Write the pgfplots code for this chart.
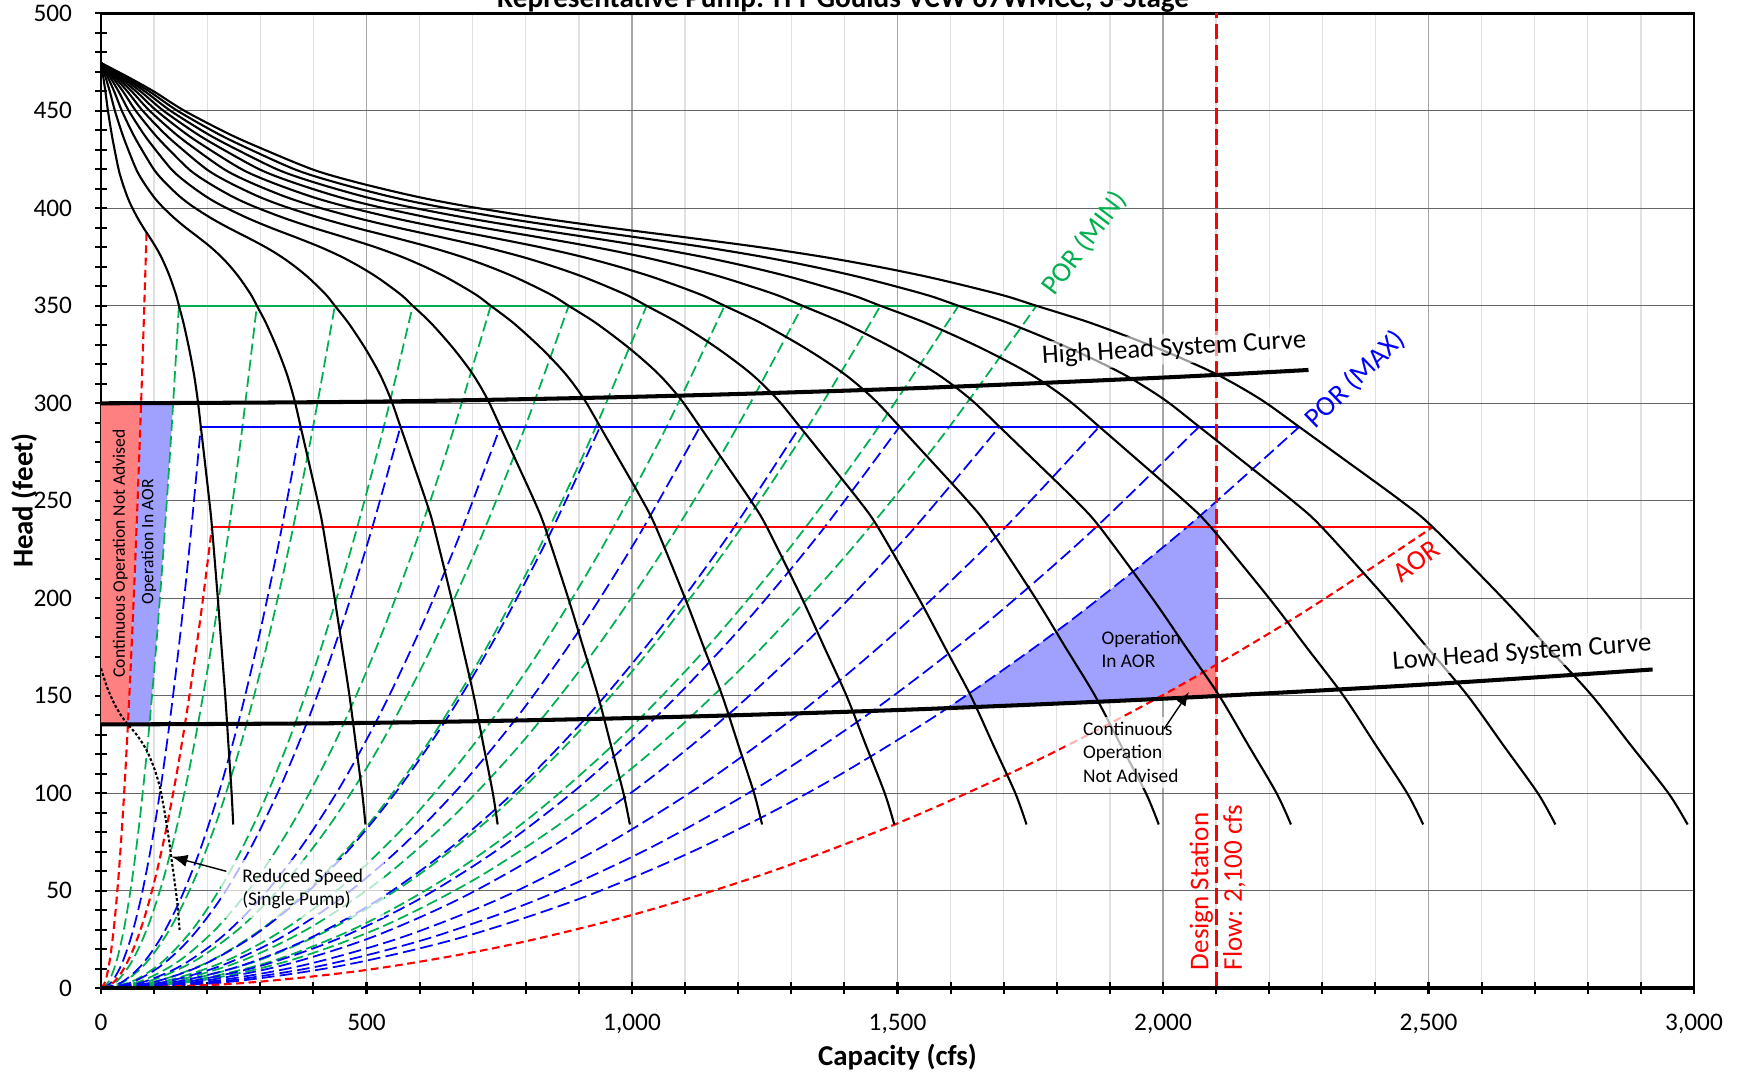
\documentclass[border=0pt]{standalone}
\usepackage{fontspec}
\setmainfont{Carlito}
\usepackage{pgfplots}
\pgfplotsset{compat=1.18}
\usepackage{pgfplotstable}
\usetikzlibrary{arrows.meta}

\definecolor{porgreen}{RGB}{0,176,80}
\definecolor{porblue}{RGB}{0,0,255}
\definecolor{aorred}{RGB}{255,0,0}
\definecolor{pinkfill}{RGB}{255,128,128}
\definecolor{lavfill}{RGB}{160,160,255}

% single pump curve: head H (ft) vs capacity q (cfs); n pumps in parallel give n*q
\pgfplotstableread{
H q
474.5 0
467.3 4.25
459.7 8.4
450 13.1
438.4 19.9
430.8 25.1
419.7 33.4
413 40.5
406 49.5
401 57.5
395 69
390 80
385 92
380 103.5
375 113.5
370 122
365 129.5
360 136
355 142
350 146.8
341 155.5
328 166
315 175
302 182
288 188
275 193.5
250 204
236.5 209
200 220
175 227
150 234
125 240
100 246
84 249
}\singlepump

% affinity curve shape through the origin (fraction of end flow / end head)
\pgfplotstableread{
u v
0 0
0.1 0.01
0.2 0.04
0.3 0.09
0.4 0.16
0.5 0.25
0.6 0.36
0.7 0.49
0.8 0.64
0.9 0.81
1 1
}\affinity

\pgfplotsset{
  pump/.style={black, line width=0.6pt, smooth},
  pormin/.style={porgreen, line width=0.5pt, dash pattern=on 3.2pt off 1.4pt, smooth},
  pormax/.style={porblue, line width=0.5pt, dash pattern=on 3.6pt off 1.5pt, smooth},
  aor/.style={aorred, line width=0.6pt, dash pattern=on 2.2pt off 1.3pt, smooth},
}

\begin{document}
\begin{tikzpicture}
\path[use as bounding box] (-1.01cm,-0.87cm) rectangle (16.45cm,9.883cm);
\begin{axis}[
  at={(0,0)}, anchor=south west, scale only axis,
  width=15.93cm, height=9.75cm,
  xmin=0, xmax=3000, ymin=0, ymax=500,
  xtick={0,500,...,3000}, ytick={0,50,...,500},
  minor x tick num=4, minor y tick num=4,
  xmajorgrids, xminorgrids, ymajorgrids,
  major x grid style={black!35, line width=0.35pt},
  minor x grid style={black!12, line width=0.35pt},
  major y grid style={black!60, line width=0.35pt},
  tick align=center, major tick length=3.4pt, minor tick length=3.4pt,
  tick pos=left,
  every tick/.style={black, line width=0.6pt},
  axis line style={black, line width=0.8pt},
  ticklabel style={font=\fontsize{7.2}{8}\selectfont},
  /pgf/number format/assume math mode=true,
  scaled ticks=false,
  xticklabel style={/pgf/number format/1000 sep={,}, yshift=-2pt},
  yticklabel style={xshift=-3pt},
]

% shaded zones
\addplot[fill=pinkfill, draw=none] coordinates {
  (0,135.3) (0,300) (75.1,300) (68.6,250) (61.3,200) (54.8,160) (50.4,135.3)} --cycle;
\addplot[fill=lavfill, draw=none] coordinates {
  (50.4,135.3) (54.8,160) (61.3,200) (68.6,250) (75.1,300)
  (135.9,300) (124.1,250) (111.0,200) (99.3,160) (91.3,135.3)} --cycle;
\addplot[fill=lavfill, draw=none] coordinates {
  (1592,143.4) (1700,163.4) (1800,183.2) (1900,204.1) (2000,226.2) (2100,249.3)
  (2100,165.8) (2050,158.0) (2000,150.4) (1984,148.0) (1800,145.7)} --cycle;
\addplot[fill=pinkfill, draw=none] coordinates {
  (1984,148.0) (2000,150.4) (2050,158.0) (2100,165.8) (2100,149.6) (2000,148.2)} --cycle;

% POR (MIN) affinity curves, end points on the 350 ft line
\foreach \q in {146.8,293.6,440.4,587.2,734,880.8,1027.6,1174.4,1321.2,1468,1614.8,1761.6}{
  \addplot[pormin] table[x expr=\thisrow{u}*\q, y expr=\thisrow{v}*350] {\affinity};
}
% POR (MAX) affinity curves, end points on the 288 ft line
\foreach \q in {188,376,564,752,940,1128,1316,1504,1692,1880,2068,2257}{
  \addplot[pormax] table[x expr=\thisrow{u}*\q, y expr=\thisrow{v}*288] {\affinity};
}
% AOR curves
\foreach \q/\h in {86/389,209/236.5,2508/236.5}{
  \addplot[aor] table[x expr=\thisrow{u}*\q, y expr=\thisrow{v}*\h] {\affinity};
}

% POR / AOR limits
\addplot[porgreen, line width=0.65pt] coordinates {(146.8,350) (1761.6,350)};
\addplot[porblue, line width=0.65pt] coordinates {(188,288) (2257,288)};
\addplot[aorred, line width=0.65pt] coordinates {(209,236.5) (2508,236.5)};

% design station flow
\addplot[aorred, line width=0.85pt, dash pattern=on 4.5pt off 1.5pt] coordinates {(2100,0) (2100,500)};

% pump curves, 1 to 12 pumps in parallel
\foreach \n in {1,...,12}{
  \addplot[pump] table[x expr=\thisrow{q}*\n, y=H] {\singlepump};
}

% system curves
\addplot[black, line width=1.15pt, smooth] coordinates {
  (0,300) (500,300.8) (1000,303.3) (1500,307.4) (2000,313.2) (2274,317.1)};
\addplot[black, line width=1.15pt, smooth] coordinates {
  (0,135.3) (500,136.1) (1000,138.6) (1500,142.7) (2000,148.5) (2500,155.9) (2922,163.5)};

% reduced speed, single pump
\addplot[black, line width=0.6pt, dash pattern=on 0.8pt off 0.6pt, smooth] coordinates {
  (0,164) (12,154) (25,146) (40,139) (52,135) (70,129) (86,122) (100,113)
  (111,103) (120,90) (127,78) (133,66) (138,56) (144,43) (148,30)};

% labels
\node[porgreen, rotate=53, font=\fontsize{8}{9}\selectfont] at (axis cs:1852,382) {POR (MIN)};
\node[porblue, rotate=44, font=\fontsize{8}{9}\selectfont] at (axis cs:2362,312) {POR (MAX)};
\node[aorred, rotate=36, font=\fontsize{8}{9}\selectfont] at (axis cs:2478,219) {AOR};
\node[rotate=3.5, fill=white, fill opacity=0.6, text opacity=1, inner sep=1pt,
  font=\fontsize{7.6}{9}\selectfont] at (axis cs:2021,328) {High Head System Curve};
\node[rotate=4, fill=white, fill opacity=0.6, text opacity=1, inner sep=1pt,
  font=\fontsize{7.6}{9}\selectfont] at (axis cs:2676,172) {Low Head System Curve};
\node[anchor=west, align=left, font=\fontsize{5.5}{6.6}\selectfont] at (axis cs:1861,174) {Operation\\In AOR};
\node[anchor=west, align=left, fill=white, fill opacity=0.7, text opacity=1,
  inner xsep=5pt, inner ysep=1.5pt, font=\fontsize{5.5}{6.6}\selectfont]
  at (axis cs:1815,121) {Continuous\\Operation\\Not Advised};
\draw[-{Latex[length=4pt,width=3pt]}, line width=0.4pt] (axis cs:2002,133) -- (axis cs:2049,152);
\node[anchor=west, align=left, fill=white, fill opacity=0.7, text opacity=1,
  inner xsep=6pt, inner ysep=2.5pt, font=\fontsize{5.5}{6.6}\selectfont]
  at (axis cs:225,51) {Reduced Speed\\(Single Pump)};
\draw[-{Latex[length=4.5pt,width=3.5pt]}, line width=0.4pt] (axis cs:236,60) -- (axis cs:133,67.5);
\node[rotate=90, font=\fontsize{5}{6}\selectfont] at (axis cs:36,223) {Continuous Operation Not Advised};
\node[rotate=90, font=\fontsize{5}{6}\selectfont] at (axis cs:90,229) {Operation In AOR};
\node[rotate=90, anchor=west, aorred, inner sep=0pt, font=\fontsize{7.7}{9}\selectfont] at (axis cs:2072,9) {Design Station};
\node[rotate=90, anchor=west, aorred, inner sep=0pt, font=\fontsize{7.7}{9}\selectfont] at (axis cs:2134,9) {Flow: 2,100 cfs};
\end{axis}
\draw[black, line width=1.2pt] (0,0) -- (15.93cm,0);
\node[font=\bfseries\fontsize{8.2}{9.6}\selectfont] at (7.965cm,-0.69cm) {Capacity (cfs)};
\node[rotate=90, font=\bfseries\fontsize{8.2}{9.6}\selectfont] at (-0.77cm,4.875cm) {Head (feet)};
\node[anchor=base, font=\bfseries\fontsize{8.3}{10}\selectfont] at (7.42cm,9.81cm) {Representative Pump: ITT Goulds VCW 67WMCC, 3-Stage};
\end{tikzpicture}
\end{document}
